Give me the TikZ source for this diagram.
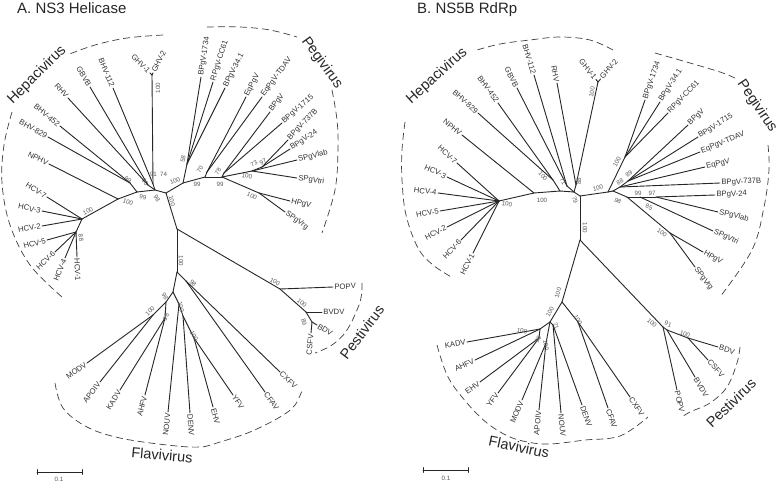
\documentclass[tikz,border=0pt]{standalone}
\usepackage{fontspec}
\setmainfont{Liberation Sans}
\newcommand\leaf[5]{\coordinate (#2) at (#3);\draw[br] (#1) -- (#2) node[pos=1,sloped,anchor=#5,tip] (#2t) {#4};}
\newcommand\sv[4]{\node[sup,rotate=#4] (#1) at (#2) {#3};}
\begin{document}
\begin{tikzpicture}[x=1pt,y=-1pt,
  br/.style={line width=0.9pt,draw=black!85,line cap=round,line join=round},
  tip/.style={font=\fontsize{7.7}{8}\selectfont,text=black!80,inner sep=1pt},
  sup/.style={font=\fontsize{6.2}{7}\selectfont,text=black!65,inner sep=0pt},
  clade/.style={font=\fontsize{14.5}{16}\selectfont,text=black!85,inner sep=0pt},
  ttl/.style={font=\fontsize{15}{17}\selectfont,text=black!85,inner sep=0pt},
  arcline/.style={line width=0.7pt,draw=black!75,dash pattern=on 7pt off 4pt}]
\useasboundingbox (0,0) rectangle (780,482);
\fill[white] (0,0) rectangle (780,482);
\node[ttl,anchor=base west] (titleA) at (17,13.5) {A. NS3 Helicase};
\node[ttl,anchor=base west] (titleB) at (417,13.5) {B. NS5B RdRp};
% ---------------- LEFT TREE internal
\coordinate (aC) at (166,193);
\coordinate (aT1) at (177,229);
\coordinate (aT2) at (177,272);
\coordinate (aF1) at (173,292);
\coordinate (aN3) at (155,190);
\coordinate (aN2) at (137,192);
\coordinate (aN1) at (118,199);
\coordinate (aH1) at (82,219);
\coordinate (aH2) at (76,232);
\coordinate (aB8) at (130,183);
\coordinate (aRG) at (148,185);
\coordinate (aY) at (153,184);
\coordinate (aGH) at (152,75);
\coordinate (aP0) at (183,183);
\coordinate (aPB) at (187,164);
\coordinate (aP1) at (205,177);
\coordinate (aPE) at (207,172);
\coordinate (aP2) at (222,177);
\coordinate (aPBb) at (224,173);
\coordinate (aP3) at (252,171);
\coordinate (aP4) at (262,167);
\coordinate (aPH) at (259,193);
\coordinate (aPs0) at (280,289);
\coordinate (aPs1) at (306,312);
\coordinate (aPs2) at (312,322);
\coordinate (aFCX) at (186,281);
\coordinate (aFL) at (166,302);
\coordinate (aMA) at (153,315);
\coordinate (aKA) at (165,318);
\coordinate (aFN) at (179,304);
\coordinate (aFD) at (183,316);
\coordinate (aFE) at (194,338);
\foreach \u/\v in {aC/aN3,aN3/aN2,aN2/aN1,aN1/aH1,aH1/aH2,aN2/aB8,aN3/aRG,aN3/aY,aY/aGH,
  aC/aP0,aC/aT1,aT1/aT2,aT2/aF1,aT1/aPs0,aPs0/aPs1,aPs1/aPs2,aT2/aFCX,aF1/aFL,aFL/aMA,aFL/aKA,
  aF1/aFN,aFN/aFD,aFD/aFE,aP0/aPB,aP0/aP1,aP1/aPE,aP1/aP2,aP2/aPBb,aP2/aP3,aP3/aP4,aP2/aPH}
  \draw[br] (\u) -- (\v);
% left leaves
\leaf{aH1}{aL1}{47,197}{HCV-7}{east}
\leaf{aH1}{aL2}{42,211}{HCV-3}{east}
\leaf{aH1}{aL3}{42,226}{HCV-2}{east}
\leaf{aH2}{aL4}{47,240}{HCV-5}{east}
\leaf{aH2}{aL5}{55,252}{HCV-6}{east}
\leaf{aH2}{aL6}{65,258}{HCV-4}{east}
\leaf{aH2}{aL7}{77,257}{HCV-1}{west}
\leaf{aN1}{aL8}{49,164}{NPHV}{east}
\leaf{aB8}{aL9}{48,137}{BHV-829}{east}
\leaf{aB8}{aL10}{60,126}{BHV-452}{east}
\leaf{aRG}{aL11}{68,98}{RHV}{east}
\leaf{aRG}{aL12}{90,87}{GBVB}{east}
\leaf{aY}{aL13}{113,88}{BHV-112}{east}
\leaf{aGH}{aL14}{150,73}{GHV-1}{east}
\leaf{aGH}{aL15}{153,73}{GHV-2}{west}
\leaf{aPB}{aL16}{201,77}{BPgV-1734}{west}
\leaf{aPB}{aL17}{213,82}{RPgV-CC61}{west}
\leaf{aPB}{aL18}{225,88}{BPgV-34.1}{west}
\leaf{aPE}{aL19}{246,97}{EqPgV}{west}
\leaf{aPE}{aL20}{262,97}{EqPgV-TDAV}{west}
\leaf{aPBb}{aL21}{270,112}{BPgV}{west}
\leaf{aPBb}{aL22}{282,123}{BPgV-1715}{west}
\leaf{aP4}{aL23}{288,140}{BPgV-737B}{west}
\leaf{aP4}{aL24}{290,149}{BPgV-24}{west}
\leaf{aP3}{aL25}{297,160}{SPgVlab}{west}
\leaf{aP3}{aL26}{297,178}{SPgVtri}{west}
\leaf{aPH}{aL27}{290,201}{HPgV}{west}
\leaf{aPH}{aL28}{285,212}{SPgVrg}{west}
\leaf{aPs0}{aL29}{333,287}{POPV}{west}
\leaf{aPs1}{aL30}{322,312}{BVDV}{west}
\leaf{aPs2}{aL31}{317,325}{BDV}{west}
\leaf{aPs2}{aL32}{311,333}{CSFV}{east}
\leaf{aMA}{aL33}{87,363}{MODV}{east}
\leaf{aMA}{aL34}{100,382}{APOIV}{east}
\leaf{aKA}{aL35}{120,390}{KADV}{east}
\leaf{aKA}{aL36}{145,395}{AHFV}{east}
\leaf{aFN}{aL37}{168,412}{NOUV}{east}
\leaf{aFD}{aL38}{190,413}{DENV}{west}
\leaf{aFE}{aL39}{213,407}{EHV}{west}
\leaf{aFE}{aL40}{233,395}{YFV}{west}
\leaf{aFCX}{aL41}{265,392}{CFAV}{west}
\leaf{aFCX}{aL42}{280,372}{CXFV}{west}
% left supports
\sv{as1}{158,88}{100}{90}
\sv{as2}{153.5,174}{91}{0}
\sv{as3}{163.5,174}{74}{0}
\sv{as4}{145,182}{80}{-55}
\sv{as5}{128,180}{99}{-35}
\sv{as6}{128,202}{100}{-20}
\sv{as7}{143,197}{99}{-10}
\sv{as8}{157,198}{98}{-60}
\sv{as9}{172,201}{100}{-75}
\sv{as10}{88,211}{100}{25}
\sv{as11}{81,238}{88}{-80}
\sv{as12}{175,181}{100}{20}
\sv{as13}{183,159}{58}{80}
\sv{as14}{200,169}{70}{60}
\sv{as15}{197,184}{99}{0}
\sv{as16}{218,171}{78}{60}
\sv{as17}{220,184}{99}{0}
\sv{as18}{254,164}{73}{30}
\sv{as19}{263,162}{97}{30}
\sv{as20}{247,176}{100}{-10}
\sv{as21}{252,196}{100}{-25}
\sv{as22}{181,261}{100}{-90}
\sv{as23}{275,282}{100}{-30}
\sv{as24}{302,303}{100}{-40}
\sv{as25}{304,322}{89}{-75}
\sv{as26}{165,296}{98}{-60}
\sv{as27}{150,311}{100}{45}
\sv{as28}{166,317}{98}{65}
\sv{as29}{181,307}{100}{-75}
\sv{as30}{194,336}{100}{-60}
\sv{as31}{193,283}{98}{-45}
% left clade arcs and labels
\draw[arcline] plot[smooth,tension=0.6] coordinates {(163,35) (127,38) (95,45) (67,55)};
\draw[arcline] plot[smooth,tension=0.6] coordinates {(12,112) (4,145) (2,183) (10,225) (30,265) (62,297)};
\node[clade,rotate=45] (cHa) at (37,75) {Hepacivirus};
\draw[arcline] plot[smooth,tension=0.6] coordinates {(207,27) (240,27) (270,30) (297,37)};
\draw[arcline] plot[smooth,tension=0.6] coordinates {(332,90) (337,120) (338,150) (335,190) (322,233)};
\node[clade,rotate=-54] (cPa) at (322,63) {Pegivirus};
\draw[arcline] plot[smooth,tension=0.6] coordinates {(362,283) (360,302) (347,330) (332,345) (315,353)};
\node[clade,rotate=53] (cSa) at (362,332) {Pestivirus};
\draw[arcline] plot[smooth,tension=0.6] coordinates {(55,383) (63,408) (87,427) (120,438) (167,445) (200,447) (220,442) (250,432) (280,417) (295,405) (303,388)};
\node[clade,rotate=-5] (cFa) at (162,455) {Flavivirus};
% left scale bar
\coordinate (aSa) at (37,472); \coordinate (aSb) at (82,472);
\draw[br,line width=0.8pt] (aSa) -- (aSb);
\draw[br,line width=0.8pt] ([yshift=-2.5pt]aSa) -- ([yshift=2.5pt]aSa);
\draw[br,line width=0.8pt] ([yshift=-2.5pt]aSb) -- ([yshift=2.5pt]aSb);
\node[sup] (aSl) at (59,479) {0.1};
% ---------------- RIGHT TREE internal
\coordinate (bJ) at (580,196);
\coordinate (bCr) at (574,192);
\coordinate (bN2) at (560,191);
\coordinate (bN1) at (534,193);
\coordinate (bH) at (499,201);
\coordinate (bB8) at (553,180);
\coordinate (bG7) at (567,186);
\coordinate (bRG) at (576,185);
\coordinate (bGH) at (598,82);
\coordinate (bPR0) at (608,192);
\coordinate (bPB) at (625,157);
\coordinate (bPR1) at (613,191);
\coordinate (bPE) at (620,187);
\coordinate (bPF) at (628,181);
\coordinate (bPS) at (627,197);
\coordinate (bP99) at (640,197);
\coordinate (bP97) at (656,197);
\coordinate (bPH) at (670,233);
\coordinate (bT1) at (580,240);
\coordinate (bF1) at (562,302);
\coordinate (bFL) at (550,322);
\coordinate (bN71) at (553,325);
\coordinate (bKA) at (540,329);
\coordinate (bK98) at (539,338);
\coordinate (bM) at (546,343);
\coordinate (bFC) at (578,322);
\coordinate (bPs0) at (663,327);
\coordinate (bPs1) at (667,330);
\coordinate (bPs2) at (688,338);
\foreach \u/\v in {bJ/bCr,bCr/bN2,bN2/bN1,bN1/bH,bN2/bB8,bCr/bG7,bCr/bRG,bRG/bGH,bJ/bPR0,bPR0/bPB,
  bPR0/bPR1,bPR1/bPE,bPE/bPF,bPR1/bPS,bPS/bP99,bP99/bP97,bPS/bPH,bJ/bT1,bT1/bF1,bF1/bFL,bFL/bN71,
  bFL/bKA,bKA/bK98,bFL/bM,bF1/bFC,bT1/bPs0,bPs0/bPs1,bPs1/bPs2}
  \draw[br] (\u) -- (\v);
% right leaves
\leaf{bH}{bL1}{457,163}{HCV-7}{east}
\leaf{bH}{bL2}{447,177}{HCV-3}{east}
\leaf{bH}{bL3}{438,193}{HCV-4}{east}
\leaf{bH}{bL4}{440,211}{HCV-5}{east}
\leaf{bH}{bL5}{447,227}{HCV-2}{east}
\leaf{bH}{bL6}{461,240}{HCV-6}{east}
\leaf{bH}{bL7}{473,253}{HCV-1}{east}
\leaf{bN1}{bL8}{462,135}{NPHV}{east}
\leaf{bB8}{bL9}{478,113}{BHV-829}{east}
\leaf{bB8}{bL10}{498,103}{BHV-452}{east}
\leaf{bG7}{bL11}{517,88}{GBVB}{east}
\leaf{bG7}{bL12}{534,75}{BHV-112}{east}
\leaf{bRG}{bL13}{557,83}{RHV}{east}
\leaf{bGH}{bL14}{596,79.5}{GHV-1}{east}
\leaf{bGH}{bL15}{600.5,79}{GHV-2}{west}
\leaf{bPB}{bL16}{645,100}{BPgV-1734}{west}
\leaf{bPB}{bL17}{660,102}{BPgV-34.1}{west}
\leaf{bPB}{bL18}{668,113}{RPgV-CC61}{west}
\leaf{bPF}{bL19}{688,125}{BPgV}{west}
\leaf{bPF}{bL20}{698,137}{BPgV-1715}{west}
\leaf{bPF}{bL21}{700,152}{EqPgV-TDAV}{west}
\leaf{bPE}{bL22}{705,167}{EqPgV}{west}
\leaf{bPE}{bL23}{720,183}{BPgV-737B}{west}
\leaf{bP97}{bL24}{715,195}{BPgV-24}{west}
\leaf{bP97}{bL25}{718,212}{SPgVlab}{west}
\leaf{bP99}{bL26}{713,231}{SPgVtri}{west}
\leaf{bPH}{bL27}{703,252}{HPgV}{west}
\leaf{bPH}{bL28}{695,267}{SPgVrg}{west}
\leaf{bKA}{bL29}{467,342}{KADV}{east}
\leaf{bKA}{bL30}{475,360}{AHFV}{east}
\leaf{bK98}{bL31}{480,382}{EHV}{east}
\leaf{bK98}{bL32}{498,393}{YFV}{east}
\leaf{bM}{bL33}{522,400}{MODV}{east}
\leaf{bM}{bL34}{539,410}{APOIV}{east}
\leaf{bN71}{bL35}{561,413}{NOUV}{west}
\leaf{bN71}{bL36}{582,405}{DENV}{west}
\leaf{bFC}{bL37}{608,408}{CFAV}{west}
\leaf{bFC}{bL38}{630,397}{CXFV}{west}
\leaf{bPs0}{bL39}{677,390}{POPV}{west}
\leaf{bPs1}{bL40}{695,377}{BVDV}{west}
\leaf{bPs2}{bL41}{708,360}{CSFV}{west}
\leaf{bPs2}{bL42}{718,347}{BDV}{west}
% right supports
\sv{bs1}{592,92}{100}{80}
\sv{bs2}{563,181}{71}{-60}
\sv{bs3}{579,181}{88}{90}
\sv{bs4}{543,176}{100}{-50}
\sv{bs5}{542,200}{100}{0}
\sv{bs6}{507,204}{100}{-10}
\sv{bs7}{575,200}{79}{-70}
\sv{bs8}{598,188}{100}{15}
\sv{bs9}{617,162}{100}{60}
\sv{bs10}{620,182}{88}{30}
\sv{bs11}{629,174}{89}{40}
\sv{bs12}{618,201}{98}{-30}
\sv{bs13}{638,193}{99}{0}
\sv{bs14}{652,193}{97}{0}
\sv{bs15}{649,207}{85}{-20}
\sv{bs16}{662,233}{100}{-35}
\sv{bs17}{585,228}{100}{-90}
\sv{bs18}{558,293}{100}{75}
\sv{bs19}{550,312}{100}{60}
\sv{bs20}{578,320}{100}{-60}
\sv{bs21}{556,326}{71}{-70}
\sv{bs22}{522,331}{100}{-10}
\sv{bs23}{538,339}{98}{60}
\sv{bs24}{546,345}{100}{-80}
\sv{bs25}{652,323}{100}{-40}
\sv{bs26}{668,324}{91}{-20}
\sv{bs27}{685,334}{100}{-20}
% right clade arcs and labels
\draw[arcline] plot[smooth,tension=0.6] coordinates {(613,50) (590,40) (560,37) (530,40) (500,44) (477,50)};
\draw[arcline] plot[smooth,tension=0.6] coordinates {(405,122) (402,150) (402,180) (406,215) (418,248) (433,265) (453,278)};
\node[clade,rotate=42] (cHb) at (437,76) {Hepacivirus};
\draw[arcline] plot[smooth,tension=0.6] coordinates {(655,53) (690,63) (720,72) (735,78)};
\draw[arcline] plot[smooth,tension=0.6] coordinates {(768,145) (769,170) (764,207) (752,250) (720,297)};
\node[clade,rotate=-56] (cPb) at (757,106) {Pegivirus};
\draw[arcline] plot[smooth,tension=0.6] coordinates {(740,347) (737,363) (727,387) (710,403) (690,412) (682,417)};
\node[clade,rotate=44] (cSb) at (731,403) {Pestivirus};
\draw[arcline] plot[smooth,tension=0.6] coordinates {(437,345) (448,377) (467,403) (487,423) (510,437) (533,443) (550,444) (570,442) (585,440) (620,436) (648,417)};
\node[clade,rotate=-12] (cFb) at (519,447) {Flavivirus};
% right scale bar
\coordinate (bSa) at (423,470); \coordinate (bSb) at (468,470);
\draw[br,line width=0.8pt] (bSa) -- (bSb);
\draw[br,line width=0.8pt] ([yshift=-2.5pt]bSa) -- ([yshift=2.5pt]bSa);
\draw[br,line width=0.8pt] ([yshift=-2.5pt]bSb) -- ([yshift=2.5pt]bSb);
\node[sup] (bSl) at (446,478) {0.1};
\end{tikzpicture}
\end{document}
